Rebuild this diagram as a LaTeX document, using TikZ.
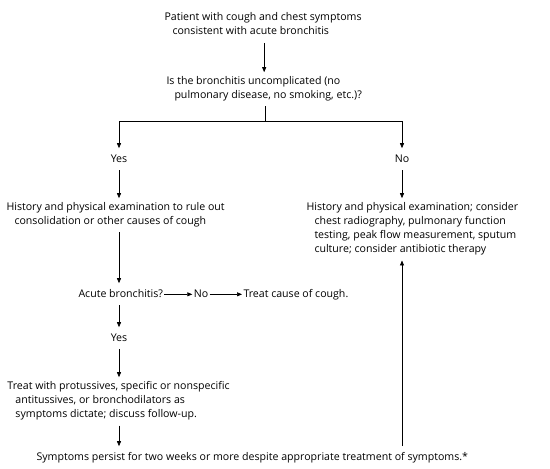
\documentclass[tikz,border=0pt]{standalone}
\usepackage{fontspec}
\setmainfont{Open Sans}
\usepackage{tikz}
\usetikzlibrary{arrows.meta,positioning}
\newcommand{\subline}{\hspace*{8pt}}
\tikzset{
  text-node/.style={inner sep=0pt, outer xsep=1.5pt, outer ysep=4pt, align=left,
    font=\fontsize{10.6}{14}\selectfont, execute at begin node=\strut,
    execute at end node=\strut},
  flow-line/.style={line width=0.7pt, draw=black},
  flow-arrow/.style={flow-line, -{Triangle[length=5pt,width=4pt]}}
}
\begin{document}
\begin{tikzpicture}[x=1pt,y=-1pt]
\useasboundingbox (0,0) rectangle (550,469);
% opening question
\node[text-node, anchor=north west] (patient) at (163,8.7)
  {Patient with cough and chest symptoms\\\subline consistent with acute bronchitis};
\node[text-node, anchor=north west] (uncomp) at (165,72.2)
  {Is the bronchitis uncomplicated (no\\\subline pulmonary disease, no smoking, etc.)?};
\node[text-node, anchor=base] (yes1) at (119,162) {Yes};
\node[text-node, anchor=base] (no1) at (402,162) {No};
% left branch
\node[text-node, anchor=north west] (exam) at (5,198.2)
  {History and physical examination to rule out\\\subline consolidation or other causes of cough};
\node[text-node, anchor=base west] (acute) at (77,297) {Acute bronchitis?};
\node[text-node, anchor=base] (no2) at (201,297) {No};
\node[text-node, anchor=base west] (cause) at (242,297) {Treat cause of cough.};
\node[text-node, anchor=base] (yes2) at (119,341) {Yes};
\node[text-node, anchor=north west] (treat) at (6,377.2)
  {Treat with protussives, specific or nonspecific\\\subline antitussives, or bronchodilators as\\\subline symptoms dictate; discuss follow-up.};
\node[text-node, anchor=base west] (persist) at (35,460)
  {Symptoms persist for two weeks or more despite appropriate treatment of symptoms.*};
% right branch
\node[text-node, anchor=north west] (workup) at (305,198.2)
  {History and physical examination; consider\\\subline chest radiography, pulmonary function\\\subline testing, peak flow measurement, sputum\\\subline culture; consider antibiotic therapy};
% connectors
\coordinate (fork) at (265,121.7);
\draw[flow-arrow] (patient.south -| uncomp.north) -- (uncomp.north);
\draw[flow-line] (uncomp.south -| fork) -- (fork);
\draw[flow-arrow] (fork) -| (yes1.north);
\draw[flow-arrow] (fork) -| (no1.north);
\draw[flow-arrow] (yes1.south) -- (yes1.south |- exam.north);
\draw[flow-arrow] (yes1.south |- exam.south) -- (yes1.south |- acute.north);
\draw[flow-arrow] (acute.mid east) -- (no2.mid west);
\draw[flow-arrow] (no2.mid east) -- (cause.mid west);
\draw[flow-arrow] (yes2.north |- acute.south) -- (yes2.north);
\draw[flow-arrow] (yes2.south) -- (yes2.south |- treat.north);
\draw[flow-arrow] (yes2.south |- treat.south) -- (yes2.south |- persist.north);
\draw[flow-arrow] (no1.south) -- (no1.south |- workup.north);
% persisting symptoms lead back to the full work-up
\draw[flow-arrow] (no1.south |- persist.north) -- (no1.south |- workup.south);
\end{tikzpicture}
\end{document}
